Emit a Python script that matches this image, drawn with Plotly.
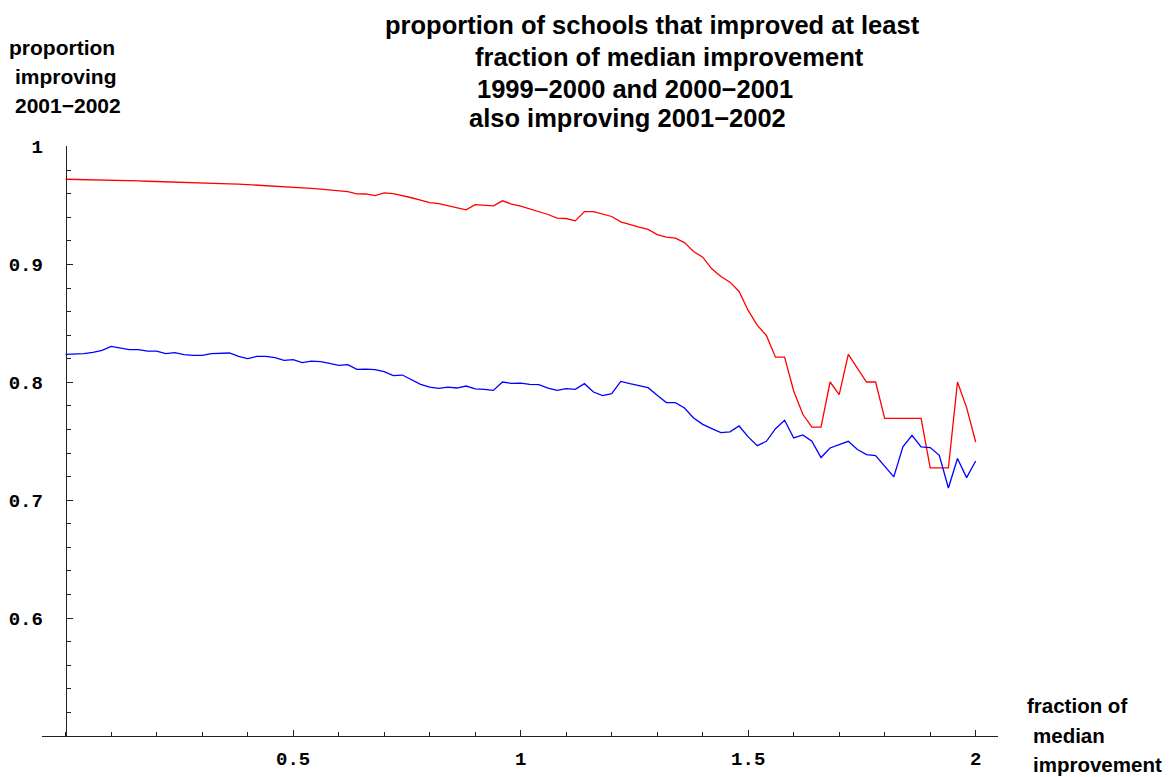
import plotly.graph_objects as go

# ---------------- data ----------------
x_frac = [round(0.02 * i, 2) for i in range(101)]

red_prop = [
    0.9723, 0.9722, 0.9721, 0.9720, 0.9719, 0.9718, 0.9716, 0.9712, 0.9709, 0.9706,
    0.9703, 0.9699, 0.9696, 0.9693, 0.9690, 0.9688, 0.9686, 0.9685, 0.9684, 0.9682,
    0.9678, 0.9673, 0.9667, 0.9661, 0.9657, 0.9653, 0.9649, 0.9645, 0.9639, 0.9632,
    0.9626, 0.9618, 0.9599, 0.9598, 0.9584, 0.9607, 0.9601, 0.9585, 0.9566, 0.9545,
    0.9524, 0.9517, 0.9497, 0.9478, 0.9463, 0.9508, 0.9503, 0.9497, 0.9540, 0.9512,
    0.9495, 0.9472, 0.9443, 0.9424, 0.9393, 0.9390, 0.9370, 0.9449, 0.9449, 0.9430,
    0.9407, 0.9362, 0.9336, 0.9316, 0.9297, 0.9254, 0.9232, 0.9223, 0.9186, 0.9110,
    0.9062, 0.8963, 0.8898, 0.8850, 0.8771, 0.8610, 0.8483, 0.8398, 0.8214, 0.8214,
    0.7927, 0.7729, 0.7621, 0.7621, 0.8003, 0.7896, 0.8237, 0.8121, 0.8003, 0.8003,
    0.7695, 0.7695, 0.7695, 0.7695, 0.7695, 0.7274, 0.7274, 0.7274, 0.8003, 0.7786,
    0.7494,
]

blue_prop = [
    0.8237, 0.8239, 0.8243, 0.8255, 0.8271, 0.8305, 0.8290, 0.8277, 0.8277, 0.8265,
    0.8265, 0.8243, 0.8252, 0.8235, 0.8229, 0.8229, 0.8243, 0.8249, 0.8249, 0.8220,
    0.8201, 0.8220, 0.8220, 0.8209, 0.8186, 0.8192, 0.8167, 0.8180, 0.8175, 0.8161,
    0.8144, 0.8150, 0.8110, 0.8113, 0.8108, 0.8091, 0.8057, 0.8062, 0.8023, 0.7983,
    0.7960, 0.7949, 0.7960, 0.7952, 0.7969, 0.7944, 0.7941, 0.7932, 0.8003, 0.7992,
    0.7994, 0.7983, 0.7980, 0.7952, 0.7932, 0.7947, 0.7941, 0.7989, 0.7918, 0.7887,
    0.7904, 0.8008, 0.7989, 0.7975, 0.7955, 0.7890, 0.7828, 0.7828, 0.7782, 0.7698,
    0.7644, 0.7607, 0.7574, 0.7580, 0.7630, 0.7537, 0.7463, 0.7500, 0.7607, 0.7678,
    0.7528, 0.7554, 0.7500, 0.7362, 0.7443, 0.7472, 0.7500, 0.7430, 0.7387, 0.7379,
    0.7291, 0.7198, 0.7453, 0.7551, 0.7453, 0.7447, 0.7381, 0.7104, 0.7354, 0.7192,
    0.7333,
]

x_tickvals = [0.5, 1, 1.5, 2]
x_ticktext = ["0.5", "1", "1.5", "2"]
y_tickvals = [0.6, 0.7, 0.8, 0.9, 1.0]
y_ticktext = ["0.6", "0.7", "0.8", "0.9", "1"]

title_lines = [
    "proportion of schools that improved at least",
    "fraction of median improvement",
    "1999\u22122000 and 2000\u22122001",
    "also improving 2001\u22122002",
]
ylabel_lines = ["proportion", "improving", "2001\u22122002"]
xlabel_lines = ["fraction of", "median", "improvement"]

# ---------------- layout geometry ----------------
# page body has an 8px margin; figure pixel = window pixel - OFF
OFF = 8
W, H = 1171 - OFF, 777 - OFF
BOX_L, BOX_R, BOX_T, BOX_B = 42, 998, 146, 736   # plot box in window pixels
ML, MT = BOX_L - OFF, BOX_T - OFF
MR, MB = W - (BOX_R - OFF), H - (BOX_B - OFF)
PW, PH = BOX_R - BOX_L, BOX_B - BOX_T
X_RANGE = [-0.052, 2.049]
Y_RANGE = [0.5, 1.0005]


def px_x(wx):
    return (wx - BOX_L) / PW


def px_y(wy):
    return (BOX_B - wy) / PH


fig = go.Figure()
fig.add_trace(go.Scatter(x=x_frac, y=red_prop, mode="lines",
                         line=dict(color="#ff0000", width=1.3), showlegend=False))
fig.add_trace(go.Scatter(x=x_frac, y=blue_prop, mode="lines",
                         line=dict(color="#0000ff", width=1.3), showlegend=False))

tick_font = dict(family="Liberation Mono", size=19, color="black", weight="bold")
label_font = dict(family="Liberation Sans", size=21, color="black", weight="bold")
xlabel_font = dict(family="Liberation Sans", size=20.5, color="black", weight="bold")
title_font = dict(family="Liberation Sans", size=25.5, color="black", weight="bold")

annotations = []
title_pos = [(652, 25), (669, 57), (634.5, 89), (627, 118)]
for txt, (cx, cy) in zip(title_lines, title_pos):
    annotations.append(dict(text=txt, x=px_x(cx), y=px_y(cy), xref="paper", yref="paper",
                            xanchor="center", yanchor="middle", showarrow=False, font=title_font))
ylab_pos = [(61.5, 48), (65.5, 77), (68, 106)]
for txt, (cx, cy) in zip(ylabel_lines, ylab_pos):
    annotations.append(dict(text=txt, x=px_x(cx), y=px_y(cy), xref="paper", yref="paper",
                            xanchor="center", yanchor="middle", showarrow=False, font=label_font))
xlab_pos = [(1025, 705), (1031, 735), (1031, 764)]
for txt, (lx, cy) in zip(xlabel_lines, xlab_pos):
    annotations.append(dict(text=txt, x=px_x(lx), y=px_y(cy), xref="paper", yref="paper",
                            xanchor="left", yanchor="middle", showarrow=False, font=xlabel_font))

yaxis_pos = (0 - X_RANGE[0]) / (X_RANGE[1] - X_RANGE[0])

fig.update_layout(
    width=W, height=H,
    margin=dict(l=ML, r=MR, t=MT, b=MB, pad=0, autoexpand=False),
    paper_bgcolor="white", plot_bgcolor="white",
    showlegend=False,
    annotations=annotations,
    xaxis=dict(
        range=X_RANGE, showgrid=False, zeroline=False, automargin=False,
        showline=True, linecolor="#222222", linewidth=1,
        tickmode="array", tickvals=x_tickvals, ticktext=x_ticktext,
        ticks="inside", ticklen=6, tickwidth=1, tickcolor="#222222",
        tickfont=tick_font, ticklabelstandoff=5,
        minor=dict(tickmode="linear", tick0=0, dtick=0.1, ticks="inside",
                   ticklen=4, tickwidth=1, tickcolor="#222222", showgrid=False),
        anchor="y",
    ),
    yaxis=dict(
        range=Y_RANGE, showgrid=False, zeroline=False, automargin=False,
        showline=True, linecolor="#222222", linewidth=1,
        tickmode="array", tickvals=y_tickvals, ticktext=y_ticktext,
        ticks="inside", ticklen=6, tickwidth=1, tickcolor="#222222",
        tickfont=tick_font, ticklabelstandoff=19,
        minor=dict(tickmode="linear", tick0=0.5, dtick=0.02, ticks="inside",
                   ticklen=4, tickwidth=1, tickcolor="#222222", showgrid=False),
        anchor="free", position=yaxis_pos,
    ),
)

fig.write_html("out.html")
